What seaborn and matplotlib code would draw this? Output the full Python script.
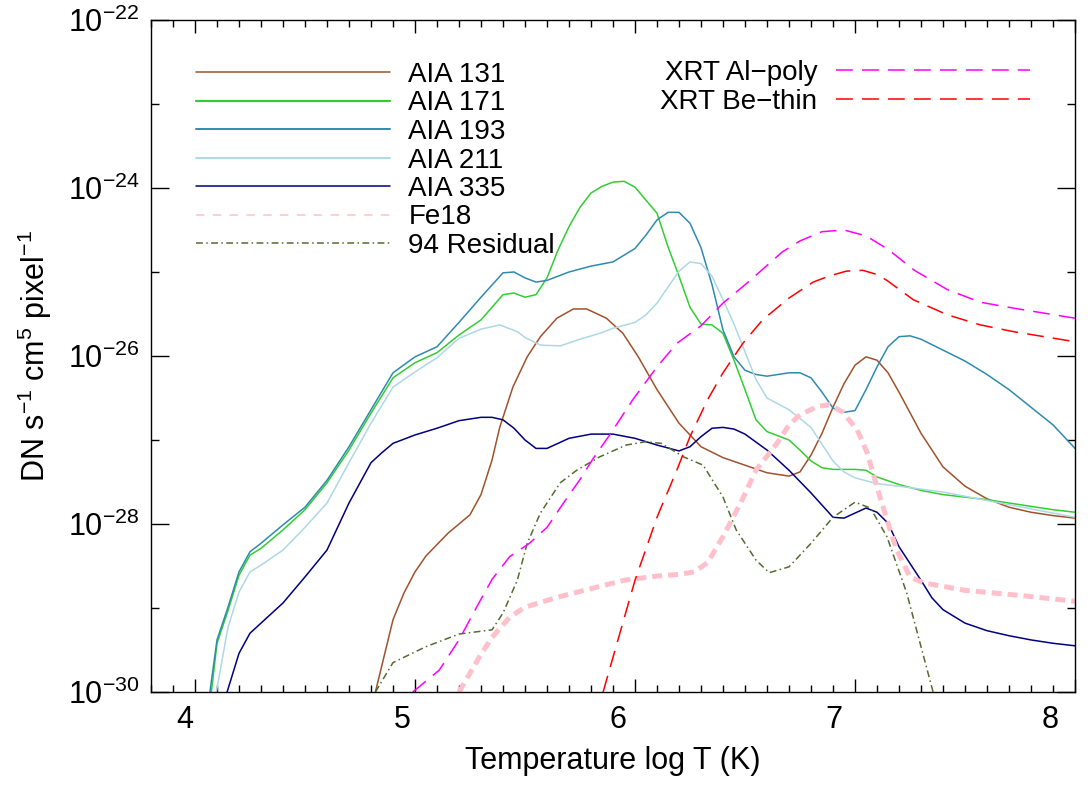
import numpy as np
import pandas as pd
import matplotlib
matplotlib.use("Agg")
import matplotlib.pyplot as plt
import matplotlib.transforms as mtransforms
import seaborn as sns
from matplotlib import font_manager
from matplotlib.lines import Line2D
from matplotlib.ticker import FixedLocator, LogFormatterSciNotation, NullFormatter, MultipleLocator

# ---------------- data (log10 of response) ----------------
x_131 = [4.82, 4.9, 4.95, 5.0, 5.05, 5.15, 5.25, 5.3, 5.35, 5.385, 5.445, 5.51, 5.57, 5.645, 5.72, 5.78,
         5.87, 5.945, 6.015, 6.1, 6.2, 6.3, 6.4, 6.5, 6.6, 6.7, 6.75, 6.8, 6.85, 6.9, 6.95, 7.0, 7.05,
         7.1, 7.15, 7.2, 7.3, 7.4, 7.5, 7.6, 7.7, 7.8, 7.9, 8.0]
y_131 = [-30.0, -29.14, -28.82, -28.57, -28.38, -28.11, -27.89, -27.65, -27.24, -26.85, -26.37, -26.01, -25.77,
         -25.55, -25.44, -25.44, -25.55, -25.73, -26.01, -26.40, -26.80, -27.08, -27.21, -27.30, -27.39,
         -27.43, -27.38, -27.18, -26.92, -26.61, -26.33, -26.11, -26.01, -26.05, -26.20, -26.43, -26.92,
         -27.32, -27.55, -27.70, -27.80, -27.86, -27.90, -27.93]

x_171 = [4.07, 4.1, 4.15, 4.2, 4.25, 4.3, 4.4, 4.5, 4.6, 4.7, 4.8, 4.9, 5.0, 5.1, 5.2, 5.3, 5.4, 5.45, 5.5,
         5.55, 5.6, 5.65, 5.7, 5.75, 5.8, 5.85, 5.9, 5.95, 6.0, 6.1, 6.15, 6.2, 6.25, 6.3, 6.35, 6.4, 6.45,
         6.5, 6.55, 6.6, 6.7, 6.75, 6.8, 6.85, 6.9, 7.0, 7.05, 7.1, 7.2, 7.3, 7.4, 7.5, 7.6, 7.7, 7.8, 7.9,
         8.0]
y_171 = [-30.1, -29.42, -29.03, -28.61, -28.37, -28.29, -28.07, -27.83, -27.51, -27.12, -26.68, -26.26,
         -26.08, -25.96, -25.75, -25.57, -25.27, -25.25, -25.30, -25.27, -25.07, -24.74, -24.46, -24.23,
         -24.06, -23.98, -23.93, -23.92, -23.99, -24.30, -24.70, -25.05, -25.42, -25.62, -25.63, -25.73,
         -26.05, -26.40, -26.76, -26.90, -27.00, -27.12, -27.25, -27.33, -27.35, -27.35, -27.36, -27.44,
         -27.53, -27.60, -27.65, -27.68, -27.71, -27.75, -27.79, -27.83, -27.86]

x_193 = [4.06, 4.1, 4.15, 4.2, 4.25, 4.3, 4.4, 4.5, 4.6, 4.7, 4.8, 4.9, 5.0, 5.1, 5.2, 5.3, 5.4, 5.45,
         5.5, 5.55, 5.6, 5.7, 5.8, 5.9, 6.0, 6.05, 6.1, 6.15, 6.2, 6.25, 6.3, 6.35, 6.4, 6.45, 6.5, 6.55,
         6.6, 6.65, 6.7, 6.75, 6.8, 6.85, 6.9, 6.95, 7.0, 7.05, 7.1, 7.15, 7.2, 7.25, 7.3, 7.4, 7.5, 7.6,
         7.7, 7.8, 7.9, 8.0]
y_193 = [-30.15, -29.38, -28.99, -28.57, -28.33, -28.23, -28.01, -27.80, -27.48, -27.08, -26.64, -26.20,
         -26.01, -25.89, -25.60, -25.30, -25.01, -25.00, -25.07, -25.12, -25.10, -25.00, -24.93, -24.88,
         -24.72, -24.56, -24.38, -24.29, -24.29, -24.42, -24.71, -25.15, -25.69, -26.01, -26.17, -26.22,
         -26.24, -26.22, -26.20, -26.20, -26.26, -26.43, -26.62, -26.67, -26.65, -26.40, -26.13, -25.89,
         -25.77, -25.76, -25.80, -25.93, -26.06, -26.22, -26.40, -26.61, -26.82, -27.10]

x_211 = [4.09, 4.15, 4.2, 4.25, 4.3, 4.4, 4.5, 4.6, 4.7, 4.8, 4.9, 5.0, 5.1, 5.2, 5.3, 5.385, 5.465,
         5.5, 5.57, 5.66, 5.75, 5.84, 5.9, 6.0, 6.05, 6.1, 6.15, 6.2, 6.25, 6.3, 6.35, 6.4, 6.45, 6.5,
         6.55, 6.6, 6.7, 6.8, 6.85, 6.9, 6.95, 7.0, 7.1, 7.2, 7.4, 7.6, 7.8, 8.0]
y_211 = [-30.1, -29.23, -28.81, -28.57, -28.49, -28.31, -28.04, -27.75, -27.27, -26.80, -26.37, -26.19,
         -26.02, -25.79, -25.68, -25.63, -25.71, -25.78, -25.87, -25.88, -25.80, -25.73, -25.67, -25.60,
         -25.51, -25.37, -25.18, -24.99, -24.88, -24.90, -25.05, -25.33, -25.62, -25.95, -26.28, -26.50,
         -26.64, -26.85, -27.05, -27.25, -27.38, -27.45, -27.52, -27.55, -27.62, -27.72, -27.82, -27.92]

x_335 = [4.14, 4.2, 4.25, 4.3, 4.4, 4.5, 4.6, 4.7, 4.8, 4.85, 4.9, 5.0, 5.1, 5.2, 5.3, 5.35, 5.4, 5.45,
         5.5, 5.55, 5.6, 5.7, 5.8, 5.9, 6.0, 6.1, 6.2, 6.25, 6.3, 6.35, 6.4, 6.45, 6.5, 6.6, 6.7, 6.8,
         6.9, 6.95, 7.0, 7.05, 7.1, 7.15, 7.2, 7.3, 7.35, 7.4, 7.5, 7.6, 7.7, 7.8, 7.9, 8.0]
y_335 = [-30.05, -29.54, -29.30, -29.18, -28.94, -28.63, -28.31, -27.75, -27.27, -27.15, -27.04, -26.94,
         -26.86, -26.77, -26.73, -26.73, -26.76, -26.86, -27.00, -27.10, -27.10, -26.98, -26.93, -26.93,
         -26.98, -27.06, -27.13, -27.08, -26.96, -26.86, -26.85, -26.87, -26.93, -27.12, -27.36, -27.63,
         -27.92, -27.93, -27.87, -27.81, -27.86, -27.99, -28.27, -28.67, -28.88, -29.02, -29.18, -29.27,
         -29.33, -29.38, -29.42, -29.45]

x_fe18 = [5.2, 5.3, 5.35, 5.43, 5.5, 5.65, 5.8, 5.95, 6.1, 6.2, 6.27, 6.33, 6.4, 6.48, 6.55, 6.645,
          6.7, 6.75, 6.83, 6.885, 6.945, 7.01, 7.055, 7.1, 7.145, 7.19, 7.25, 7.31, 7.5, 7.75, 8.0]
y_fe18 = [-30.0, -29.55, -29.35, -29.11, -28.99, -28.87, -28.77, -28.67, -28.62, -28.60, -28.57, -28.46,
          -28.15, -27.75, -27.36, -27.04, -26.82, -26.70, -26.60, -26.58, -26.67, -26.88, -27.15, -27.56,
          -27.95, -28.31, -28.63, -28.70, -28.79, -28.85, -28.92]

x_res94 = [4.82, 4.9, 5.05, 5.2, 5.35, 5.4, 5.465, 5.51, 5.57, 5.66, 5.735, 5.84, 5.96, 6.05, 6.12,
           6.22, 6.31, 6.4, 6.46, 6.55, 6.61, 6.7, 6.8, 6.9, 7.0, 7.07, 7.145, 7.235, 7.36]
y_res94 = [-30.0, -29.65, -29.46, -29.31, -29.26, -29.06, -28.67, -28.23, -27.87, -27.51, -27.36, -27.20,
           -27.06, -27.02, -27.04, -27.20, -27.30, -27.68, -28.07, -28.43, -28.58, -28.51, -28.23, -27.92,
           -27.74, -27.81, -28.15, -28.82, -30.05]

x_alpoly = [4.99, 5.11, 5.2, 5.28, 5.35, 5.43, 5.52, 5.6, 5.675, 5.75, 5.81, 5.885, 5.99, 6.1, 6.19,
            6.3, 6.4, 6.51, 6.67, 6.75, 6.85, 6.95, 7.05, 7.15, 7.27, 7.42, 7.57, 7.72, 8.0]
y_alpoly = [-30.0, -29.74, -29.38, -28.99, -28.66, -28.39, -28.23, -28.04, -27.75, -27.47, -27.22, -26.94,
            -26.52, -26.13, -25.85, -25.64, -25.37, -25.13, -24.76, -24.63, -24.52, -24.50, -24.57, -24.73,
            -24.98, -25.21, -25.36, -25.43, -25.55]

x_bethin = [5.855, 6.0, 6.1, 6.19, 6.25, 6.33, 6.4, 6.49, 6.58, 6.7, 6.81, 6.88, 6.96, 7.035, 7.1,
            7.145, 7.265, 7.42, 7.57, 7.72, 8.0]
y_bethin = [-30.0, -28.67, -27.92, -27.36, -26.96, -26.52, -26.20, -25.85, -25.57, -25.31, -25.12, -25.05,
            -24.99, -24.98, -25.03, -25.10, -25.33, -25.51, -25.63, -25.71, -25.83]

labels_left = ["AIA 131", "AIA 171", "AIA 193", "AIA 211", "AIA 335", "Fe18", "94 Residual"]
labels_right = ["XRT Al\u2212poly", "XRT Be\u2212thin"]
x_ticks = [4, 5, 6, 7, 8]
y_major_exp = [-30, -28, -26, -24, -22]
y_minor_exp = [-29, -27, -25, -23]

# ---------------- style ----------------
sns.set_theme(style="white")
avail = {f.name for f in font_manager.fontManager.ttflist}
main_font = "Liberation Sans" if "Liberation Sans" in avail else "DejaVu Sans"
narrow_font = "Liberation Sans Narrow" if "Liberation Sans Narrow" in avail else main_font
plt.rcParams["font.family"] = [main_font, "DejaVu Sans"]
plt.rcParams["mathtext.default"] = "regular"
plt.rcParams["axes.unicode_minus"] = True
for k in ["text.color", "axes.labelcolor", "xtick.color", "ytick.color", "axes.edgecolor"]:
    plt.rcParams[k] = "black"

fig = plt.figure(figsize=(10.91, 7.85), dpi=100)
ax = fig.add_axes([151 / 1091, 93 / 785, 924 / 1091, 672 / 785])

series = [
    ("AIA 131", x_131, y_131, "#A0522D", 1.1, None),
    ("AIA 171", x_171, y_171, "#32CD32", 1.1, None),
    ("AIA 193", x_193, y_193, "#2E8BAE", 1.1, None),
    ("AIA 211", x_211, y_211, "#ADD8E6", 1.1, None),
    ("AIA 335", x_335, y_335, "#000080", 1.1, None),
    ("Fe18", x_fe18, y_fe18, "#FFC0CB", 3.6, (2.0, 1.2)),
    ("94 Residual", x_res94, y_res94, "#556B2F", 1.1, (4.5, 2.2, 1.0, 2.2)),
    ("XRT Al-poly", x_alpoly, y_alpoly, "#FF00FF", 1.1, (11, 6)),
    ("XRT Be-thin", x_bethin, y_bethin, "#FF0000", 1.1, (11, 6)),
]

for name, xs, ys, color, lw, dash in series:
    df = pd.DataFrame({"logT": xs, "resp": np.power(10.0, np.array(ys))})
    sns.lineplot(data=df, x="logT", y="resp", ax=ax, color=color, lw=lw,
                 sort=False, estimator=None, legend=False)
    line = ax.lines[-1]
    line.set_solid_joinstyle("round")
    if dash is not None:
        line.set_dashes(dash)

ax.set_yscale("log")
ax.set_xlim(3.8, 8.0)
ax.set_ylim(1e-30, 1e-22)

ax.xaxis.set_major_locator(FixedLocator(x_ticks))
ax.xaxis.set_minor_locator(MultipleLocator(0.1))
ax.yaxis.set_major_locator(FixedLocator([10.0 ** e for e in y_major_exp]))
ax.yaxis.set_minor_locator(FixedLocator([10.0 ** e for e in y_minor_exp]))
ax.yaxis.set_major_formatter(LogFormatterSciNotation())
ax.yaxis.set_minor_formatter(NullFormatter())

ax.tick_params(which="both", direction="in", top=True, right=True, bottom=True, left=True,
               color="black", width=1.0)
ax.tick_params(axis="x", which="major", length=9.5, pad=9, labelsize=22)
ax.tick_params(axis="x", which="minor", length=5)
ax.tick_params(axis="y", which="major", length=13, pad=8, labelsize=22)
ax.tick_params(axis="y", which="minor", length=6)

for sp in ax.spines.values():
    sp.set_color("black")
    sp.set_linewidth(1.0)

ax.set_xlabel("Temperature log T (K)", fontsize=22, labelpad=8)
ax.set_ylabel("DN s$^{-1}$ cm$^{5}$ pixel$^{-1}$", fontsize=22, labelpad=10, family=narrow_font)

# x tick labels in the reference sit slightly left of their ticks
x_label_shift_px = [-10, -13, -17, -21, -25]
for tick, dx in zip(ax.xaxis.get_major_ticks(), x_label_shift_px):
    off = mtransforms.ScaledTranslation(dx / 100.0, 0, fig.dpi_scale_trans)
    tick.label1.set_transform(tick.label1.get_transform() + off)

# ---------------- legends ----------------
def handle(color, lw, dash):
    h = Line2D([], [], color=color, lw=lw)
    if dash is not None:
        h.set_dashes(dash)
    return h

left_handles = [
    handle("#A0522D", 1.1, None),
    handle("#32CD32", 1.6, None),
    handle("#2E8BAE", 1.4, None),
    handle("#ADD8E6", 1.4, None),
    handle("#000080", 1.1, None),
    handle("#FFC0CB", 1.1, (5.5, 5.5)),
    handle("#556B2F", 1.1, (4.5, 2.2, 1.0, 2.2)),
]
leg1 = ax.legend(left_handles, labels_left, loc="upper left",
                 bbox_to_anchor=((196 - 151) / 924, (692 - 62) / 672),
                 frameon=False, fontsize=20, handlelength=7.0, handletextpad=0.65,
                 labelspacing=0.09, borderaxespad=0, borderpad=0)
ax.add_artist(leg1)

right_handles = [handle("#FF00FF", 1.1, (11, 6)), handle("#FF0000", 1.1, (11, 6))]
leg2 = ax.legend(right_handles, labels_right, loc="upper right",
                 bbox_to_anchor=((1030 - 151) / 924, (692 - 60) / 672),
                 frameon=False, fontsize=20, handlelength=7.0, handletextpad=0.65,
                 labelspacing=0.11, borderaxespad=0, borderpad=0, markerfirst=False)

fig.savefig("out.png", dpi=100)
